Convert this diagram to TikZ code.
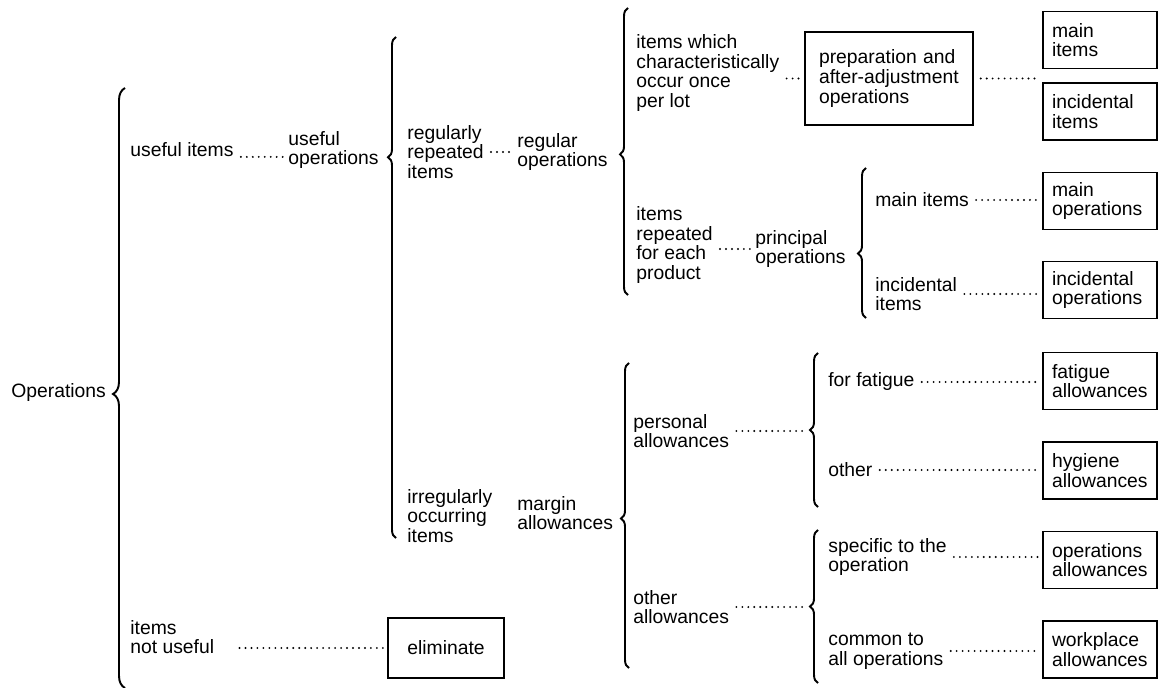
\documentclass[tikz,border=0pt]{standalone}
\usepackage{fontspec}
\setmainfont{Liberation Sans}
\usetikzlibrary{positioning, decorations.pathreplacing}
\tikzset{
every node/.style={font=\fontsize{11}{11.2}\selectfont}, % sets the font of every label
entry/.style={anchor=west, inner sep=0pt, align=left}, % plain text entries of the tree
outbox/.style={draw, line width=0.8pt, align=left, text width=1.92cm, inner xsep=0.18cm, inner ysep=0pt, minimum height=1.14cm}, % boxes in the last column
curly/.style 2 args={decorate, line width=1.1pt, decoration={brace, amplitude=#1, aspect=#2}}, % braces, drawn from bottom to top
dotline/.style={line width=1.2pt, line cap=round, dash pattern=on 0pt off 3.4pt, shorten <=4pt, shorten >=2pt}, % dotted leaders
}
\begin{document}
\begin{tikzpicture}[x=0.02cm, y=-0.02cm]
                \useasboundingbox (0,0) rectangle (1158,688);
                % first split
                \node[entry] (operations) at (11,393) {Operations};
                \node[entry] (useful_items) at (130,150) {useful items};
                \node[entry] (useful_ops) at (288,150) {useful\\operations};
                \node[entry] (not_useful) at (130,637) {items\\not useful};
                \node[draw, line width=0.8pt, minimum width=2.32cm, minimum height=1.2cm] (eliminate) at (446,648) {eliminate};
                % useful operations
                \node[entry] (reg_items) at (407,152) {regularly\\repeated\\items};
                \node[entry] (reg_ops) at (517,152) {regular\\operations};
                \node[entry] (irr_items) at (407,516) {irregularly\\occurring\\items};
                \node[entry] (margin) at (517,513) {margin\\allowances};
                % regular operations
                \node[entry] (once_lot) at (636,73) {items which\\characteristically\\occur once\\per lot};
                \node[draw, line width=0.8pt, align=left, text width=2.8cm, inner xsep=0.28cm, minimum height=1.86cm] (prep) at (889,78.5) {preparation and\\after-adjustment\\operations};
                \node[outbox] (main_items_box) at (1100,40) {main\\items};
                \node[outbox] (inc_items_box) at (1100,111.5) {incidental\\items};
                \node[entry] (each_product) at (636,245) {items\\repeated\\for each\\product};
                \node[entry] (principal) at (755,249) {principal\\operations};
                \node[entry] (main_items) at (875,200) {main items};
                \node[entry] (inc_items) at (875,294) {incidental\\items};
                \node[outbox] (main_ops) at (1100,201) {main\\operations};
                \node[outbox] (inc_ops) at (1100,290) {incidental\\operations};
                % margin allowances
                \node[entry] (personal) at (633,431) {personal\\allowances};
                \node[entry] (other_allow) at (633,607) {other\\allowances};
                \node[entry] (fatigue) at (828,382) {for fatigue};
                \node[entry] (other) at (828,470) {other};
                \node[entry] (specific) at (828,557) {specific to the\\operation};
                \node[entry] (common) at (828,651) {common to\\all operations};
                \node[outbox] (fatigue_box) at (1100,381) {fatigue\\allowances};
                \node[outbox] (hygiene_box) at (1100,470.5) {hygiene\\allowances};
                \node[outbox] (op_allow_box) at (1100,560) {operations\\allowances};
                \node[outbox] (workplace_box) at (1100,649.5) {workplace\\allowances};
                \coordinate (personal_tip) at (810,431);
                \coordinate (other_tip) at (810,607);
                % braces
                \draw[curly={0.24cm}{0.49}] (125,688) -- (125,88);
                \draw[curly={0.16cm}{0.76}] (396,538) -- (396,37);
                \draw[curly={0.16cm}{0.49}] (628,295) -- (628,8);
                \draw[curly={0.16cm}{0.43}] (866,318) -- (866,168);
                \draw[curly={0.16cm}{0.49}] (629,668) -- (629,363);
                \draw[curly={0.16cm}{0.5}] (818,507) -- (818,353);
                \draw[curly={0.16cm}{0.5}] (818,683) -- (818,530);
                % dotted leaders
                \draw[dotline]
                    (useful_items.base east) edge (useful_items.base east -| useful_ops.west)
                    (not_useful.east |- eliminate.west) edge[shorten <=0.5cm] (eliminate.west)
                    (reg_items.east) edge (reg_items.east -| reg_ops.west)
                    (once_lot.east |- prep.west) edge (prep.west)
                    (prep.east) edge (prep.east -| main_items_box.west)
                    (each_product.east |- principal.west) edge (principal.west)
                    (main_items.east) edge (main_items.east -| main_ops.west)
                    (inc_items.east) edge (inc_items.east -| inc_ops.west)
                    (personal.east) edge (personal_tip)
                    (other_allow.east) edge (other_tip)
                    (fatigue.east) edge (fatigue.east -| fatigue_box.west)
                    (other.east) edge (other.east -| hygiene_box.west)
                    (specific.east) edge (specific.east -| op_allow_box.west)
                    (common.east) edge (common.east -| workplace_box.west)
                    ;
                \end{tikzpicture}
\end{document}
